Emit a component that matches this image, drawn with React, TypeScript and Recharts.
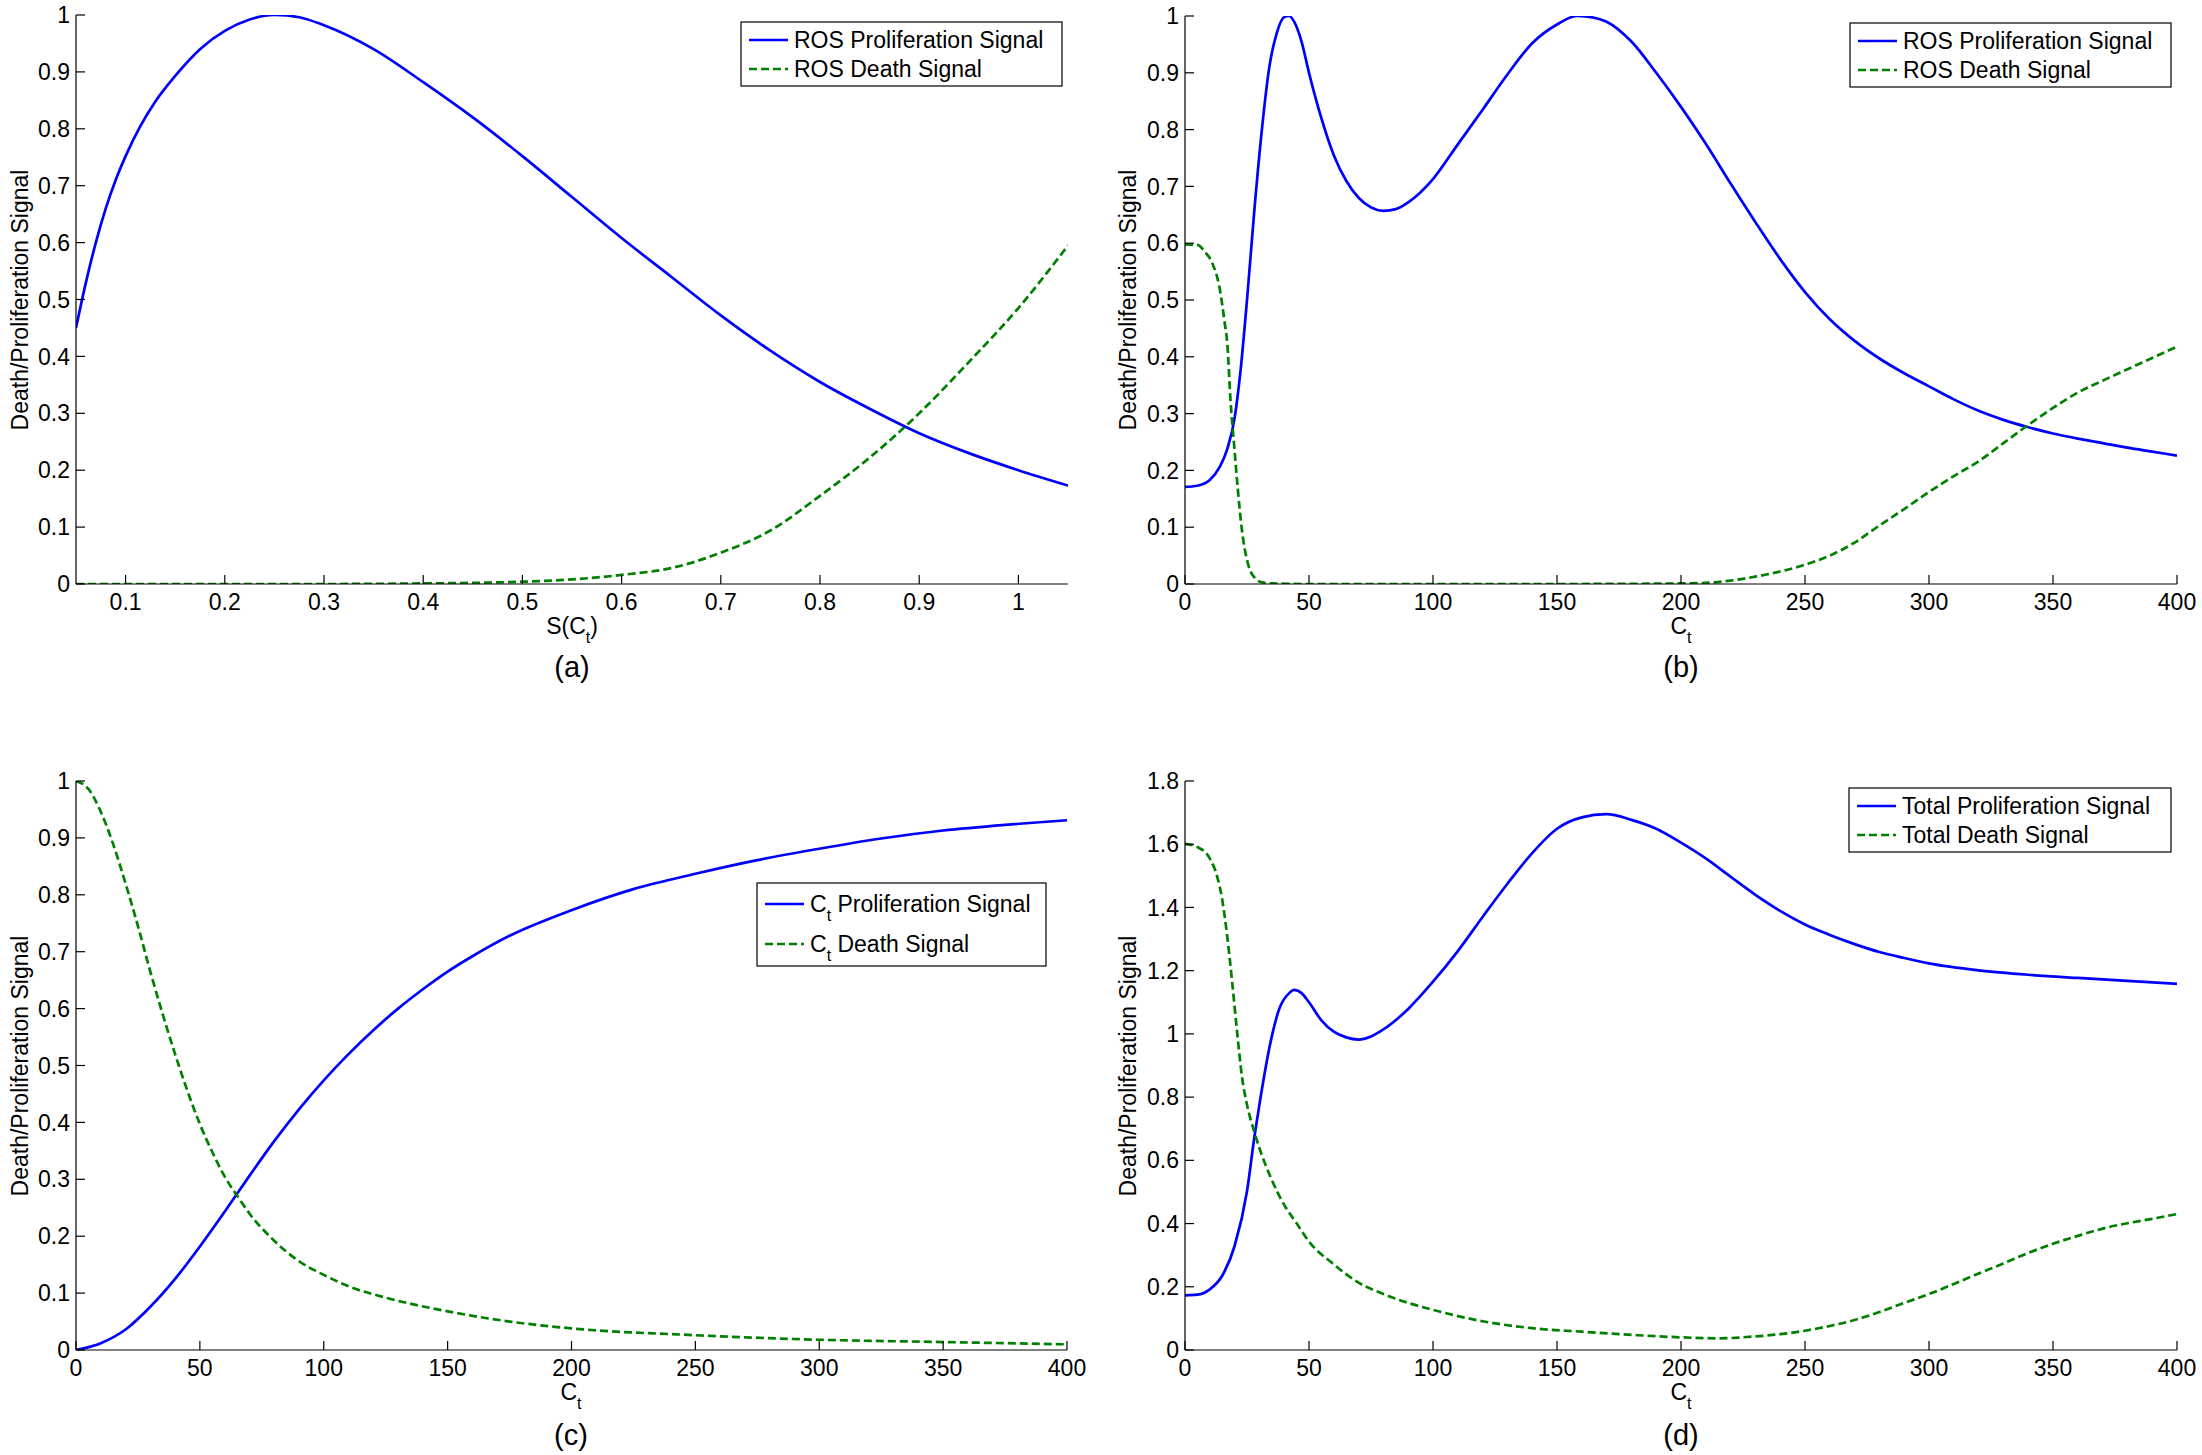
import React from 'react';
import { LineChart, Line, XAxis, YAxis } from 'recharts';

// (a) ROS signals against S(C_t)
const aProlifX = [0.05, 0.06, 0.07, 0.08, 0.09, 0.1, 0.115, 0.13, 0.15, 0.175, 0.2, 0.225, 0.25, 0.275, 0.3, 0.35, 0.4, 0.45, 0.5, 0.55, 0.6, 0.65, 0.7, 0.75, 0.8, 0.85, 0.9, 0.95, 1.0, 1.05];
const aProlifY = [0.45, 0.53, 0.6, 0.66, 0.71, 0.752, 0.805, 0.848, 0.893, 0.94, 0.972, 0.992, 1.0, 0.996, 0.982, 0.94, 0.882, 0.82, 0.752, 0.68, 0.608, 0.54, 0.472, 0.41, 0.355, 0.308, 0.265, 0.23, 0.2, 0.173];
const aDeathX = [0.05, 0.1, 0.2, 0.3, 0.4, 0.45, 0.5, 0.55, 0.6, 0.65, 0.7, 0.75, 0.8, 0.85, 0.9, 0.95, 1.0, 1.05];
const aDeathY = [0, 0, 0, 0, 0.001, 0.002, 0.004, 0.008, 0.016, 0.028, 0.055, 0.094, 0.155, 0.222, 0.3, 0.39, 0.485, 0.595];

// (b) ROS signals against C_t
const bProlifX = [0, 5, 10, 14, 17, 20, 22.5, 25, 28, 31, 34, 37, 40, 42, 44, 47, 50, 55, 60, 65, 70, 75, 80, 85, 90, 100, 110, 120, 130, 140, 150, 158, 165, 170, 180, 190, 200, 210, 220, 230, 240, 250, 260, 270, 280, 290, 300, 310, 320, 330, 340, 350, 360, 370, 380, 390, 400];
const bProlifY = [0.171, 0.173, 0.183, 0.206, 0.237, 0.292, 0.38, 0.5, 0.66, 0.8, 0.91, 0.97, 0.998, 1.0, 0.99, 0.955, 0.9, 0.82, 0.755, 0.71, 0.68, 0.663, 0.657, 0.66, 0.672, 0.713, 0.774, 0.835, 0.897, 0.952, 0.985, 1.0, 0.997, 0.99, 0.955, 0.9, 0.84, 0.775, 0.705, 0.637, 0.572, 0.514, 0.466, 0.428, 0.397, 0.371, 0.348, 0.325, 0.305, 0.289, 0.276, 0.265, 0.256, 0.248, 0.24, 0.233, 0.226];
const bDeathX = [0, 5, 8, 11, 14, 16, 17, 18.4, 19.8, 21.3, 22.7, 25.5, 28.3, 31, 35, 50, 100, 150, 200, 210, 220, 230, 240, 250, 260, 270, 280, 290, 300, 310, 320, 330, 340, 350, 360, 370, 380, 390, 400];
const bDeathY = [0.598, 0.597, 0.585, 0.565, 0.52, 0.46, 0.426, 0.32, 0.245, 0.167, 0.104, 0.034, 0.01, 0.003, 0.001, 0, 0, 0, 0.001, 0.002, 0.006, 0.013, 0.022, 0.034, 0.05, 0.073, 0.103, 0.132, 0.162, 0.19, 0.216, 0.248, 0.28, 0.31, 0.337, 0.358, 0.378, 0.398, 0.418];

// (c) C_t signals
const cProlifX = [0, 10, 20, 30, 40, 50, 60, 70, 80, 90, 100, 110, 120, 130, 140, 150, 160, 175, 200, 225, 250, 275, 300, 325, 350, 375, 400];
const cProlifY = [0, 0.012, 0.036, 0.076, 0.125, 0.182, 0.243, 0.306, 0.367, 0.423, 0.474, 0.52, 0.562, 0.6, 0.634, 0.665, 0.692, 0.728, 0.773, 0.81, 0.837, 0.861, 0.881, 0.899, 0.913, 0.923, 0.931];
const cDeathX = [0, 5, 10, 15, 20, 25, 30, 35, 40, 45, 50, 55, 60, 66, 70, 80, 90, 100, 110, 125, 150, 175, 200, 250, 300, 350, 400];
const cDeathY = [1.0, 0.986, 0.946, 0.889, 0.82, 0.745, 0.665, 0.59, 0.52, 0.455, 0.397, 0.348, 0.305, 0.265, 0.24, 0.192, 0.156, 0.132, 0.112, 0.092, 0.068, 0.05, 0.038, 0.026, 0.018, 0.014, 0.01];

// (d) total signals
const dProlifX = [0, 5, 10, 15, 20, 25, 28, 30, 35, 38, 42, 44, 47, 50, 55, 60, 65, 70, 75, 80, 90, 100, 110, 120, 130, 140, 150, 160, 170, 180, 190, 200, 210, 220, 230, 240, 250, 260, 270, 280, 290, 300, 320, 340, 360, 380, 400];
const dProlifY = [0.173, 0.175, 0.192, 0.235, 0.329, 0.502, 0.675, 0.776, 0.992, 1.079, 1.129, 1.139, 1.129, 1.1, 1.043, 1.007, 0.989, 0.982, 0.992, 1.014, 1.079, 1.165, 1.262, 1.37, 1.475, 1.572, 1.649, 1.685, 1.695, 1.677, 1.649, 1.605, 1.555, 1.497, 1.44, 1.389, 1.346, 1.313, 1.284, 1.259, 1.24, 1.223, 1.201, 1.187, 1.177, 1.168, 1.158];
const dDeathX = [0, 5, 10, 13, 15, 17, 19, 21, 23, 25, 28, 30, 35, 40, 45, 50, 60, 70, 80, 90, 100, 120, 140, 160, 180, 200, 215, 230, 240, 250, 260, 270, 280, 290, 300, 310, 320, 330, 340, 350, 360, 370, 380, 390, 400];
const dDeathY = [1.601, 1.591, 1.555, 1.497, 1.425, 1.31, 1.165, 1.007, 0.863, 0.776, 0.689, 0.639, 0.538, 0.459, 0.401, 0.343, 0.271, 0.213, 0.177, 0.149, 0.127, 0.091, 0.069, 0.058, 0.048, 0.04, 0.037, 0.043, 0.05, 0.061, 0.076, 0.095, 0.12, 0.149, 0.177, 0.209, 0.242, 0.274, 0.307, 0.336, 0.361, 0.384, 0.401, 0.415, 0.43];

const sTicks = [0.1, 0.2, 0.3, 0.4, 0.5, 0.6, 0.7, 0.8, 0.9, 1];
const ctTicks = [0, 50, 100, 150, 200, 250, 300, 350, 400];
const unitTicks = [0, 0.1, 0.2, 0.3, 0.4, 0.5, 0.6, 0.7, 0.8, 0.9, 1];
const totalTicks = [0, 0.2, 0.4, 0.6, 0.8, 1, 1.2, 1.4, 1.6, 1.8];

const FONT = '"Liberation Sans", Arial, sans-serif';
const BLUE = '#0000ff';
const GREEN = '#008000';
const DASH = '8 4';

const zip = (xs: number[], ys: number[]) => xs.map((x, i) => ({ x, y: ys[i] }));

interface Box { left: number; top: number; width: number; height: number }
interface Plot { left: number; top: number; right: number; bottom: number }
interface Series { name: string; data: { x: number; y: number }[]; color: string; dash?: string }

interface PanelProps {
  box: Box;
  plot: Plot;
  xDomain: [number, number];
  xTicks: number[];
  yDomain: [number, number];
  yTicks: number[];
  series: Series[];
}

const tickText = { fill: '#000', fontSize: 23, fontFamily: FONT };
const frame = { stroke: '#000', strokeWidth: 1.2 };

function Panel({ box, plot, xDomain, xTicks, yDomain, yTicks, series }: PanelProps) {
  const margin = { top: plot.top - box.top, right: box.left + box.width - plot.right, left: 0, bottom: 0 };
  return (
    <div style={{ position: 'absolute', left: box.left, top: box.top }}>
      <LineChart width={box.width} height={box.height} margin={margin}>
        <XAxis xAxisId="b" type="number" dataKey="x" domain={xDomain} ticks={xTicks} interval={0}
          allowDataOverflow height={box.top + box.height - plot.bottom}
          tickSize={-9} tickMargin={19} tick={tickText} axisLine={frame} tickLine={frame} />
        <XAxis xAxisId="t" orientation="top" type="number" dataKey="x" domain={xDomain} ticks={xTicks}
          interval={0} allowDataOverflow height={0} tickSize={-9} tickFormatter={() => ''}
          axisLine={frame} tickLine={frame} />
        <YAxis yAxisId="l" type="number" domain={yDomain} ticks={yTicks} interval={0} allowDataOverflow
          width={plot.left - box.left} tickSize={-9} tickMargin={15} tick={tickText}
          axisLine={frame} tickLine={frame} />
        <YAxis yAxisId="r" orientation="right" type="number" domain={yDomain} ticks={yTicks} interval={0}
          allowDataOverflow width={0} tickSize={-9} tickFormatter={() => ''}
          axisLine={frame} tickLine={frame} />
        {series.map((s) => (
          <Line key={s.name} name={s.name} xAxisId="b" yAxisId="l" data={s.data} dataKey="y" type="monotone"
            stroke={s.color} strokeWidth={2.7} strokeDasharray={s.dash} dot={false} activeDot={false}
            isAnimationActive={false} />
        ))}
      </LineChart>
    </div>
  );
}

interface LegendRow { color: string; dash?: string; sub?: boolean; label: string }

function LegendBox({ x, y, w, h, rows, rowY }: { x: number; y: number; w: number; h: number; rows: LegendRow[]; rowY: number[] }) {
  return (
    <g>
      <rect x={x} y={y} width={w} height={h} fill="#fff" stroke="#000" strokeWidth={1.2} />
      {rows.map((r, i) => (
        <g key={r.label}>
          <line x1={x + 8} x2={x + 47} y1={y + rowY[i]} y2={y + rowY[i]} stroke={r.color}
            strokeWidth={2.7} strokeDasharray={r.dash} />
          <text x={x + 53} y={y + rowY[i] + 7.5} fontSize={23} fontFamily={FONT} fill="#000">
            {r.sub ? (
              <>
                C<tspan fontSize={16} dy={9}>t</tspan><tspan dy={-9}>{' ' + r.label}</tspan>
              </>
            ) : r.label}
          </text>
        </g>
      ))}
    </g>
  );
}

function CtTitle({ x, y }: { x: number; y: number }) {
  return (
    <text x={x} y={y} textAnchor="middle" fontSize={23} fontFamily={FONT} fill="#000">
      C<tspan fontSize={16} dy={9}>t</tspan>
    </text>
  );
}

function YTitle({ x, y }: { x: number; y: number }) {
  return (
    <text transform={`translate(${x},${y}) rotate(-90)`} textAnchor="middle" dy="0.35em"
      fontSize={23} fontFamily={FONT} fill="#000">Death/Proliferation Signal</text>
  );
}

function PanelTag({ x, y, tag }: { x: number; y: number; tag: string }) {
  return (
    <text x={x} y={y} textAnchor="middle" dy="0.35em" fontSize={29} fontFamily={FONT} fill="#000">{tag}</text>
  );
}

export default function App() {
  const plotA = { left: 76, top: 15, right: 1068, bottom: 584 };
  const plotB = { left: 1185, top: 16, right: 2177, bottom: 584 };
  const plotC = { left: 76, top: 781, right: 1067, bottom: 1350 };
  const plotD = { left: 1185, top: 781, right: 2177, bottom: 1350 };

  return (
    <div style={{ position: 'absolute', left: 0, top: 0, width: 2202, height: 1455, background: '#fff' }}>
      <Panel box={{ left: 0, top: 0, width: 1101, height: 727 }} plot={plotA}
        xDomain={[0.05, 1.05]} xTicks={sTicks} yDomain={[0, 1]} yTicks={unitTicks}
        series={[
          { name: 'ROS Proliferation Signal', data: zip(aProlifX, aProlifY), color: BLUE },
          { name: 'ROS Death Signal', data: zip(aDeathX, aDeathY), color: GREEN, dash: DASH },
        ]} />
      <Panel box={{ left: 1101, top: 0, width: 1101, height: 727 }} plot={plotB}
        xDomain={[0, 400]} xTicks={ctTicks} yDomain={[0, 1]} yTicks={unitTicks}
        series={[
          { name: 'ROS Proliferation Signal', data: zip(bProlifX, bProlifY), color: BLUE },
          { name: 'ROS Death Signal', data: zip(bDeathX, bDeathY), color: GREEN, dash: DASH },
        ]} />
      <Panel box={{ left: 0, top: 727, width: 1101, height: 728 }} plot={plotC}
        xDomain={[0, 400]} xTicks={ctTicks} yDomain={[0, 1]} yTicks={unitTicks}
        series={[
          { name: 'Ct Proliferation Signal', data: zip(cProlifX, cProlifY), color: BLUE },
          { name: 'Ct Death Signal', data: zip(cDeathX, cDeathY), color: GREEN, dash: DASH },
        ]} />
      <Panel box={{ left: 1101, top: 727, width: 1101, height: 728 }} plot={plotD}
        xDomain={[0, 400]} xTicks={ctTicks} yDomain={[0, 1.8]} yTicks={totalTicks}
        series={[
          { name: 'Total Proliferation Signal', data: zip(dProlifX, dProlifY), color: BLUE },
          { name: 'Total Death Signal', data: zip(dDeathX, dDeathY), color: GREEN, dash: DASH },
        ]} />

      <svg width={2202} height={1455} style={{ position: 'absolute', left: 0, top: 0, pointerEvents: 'none' }}>
        <YTitle x={20} y={300} />
        <YTitle x={1128} y={300} />
        <YTitle x={20} y={1066} />
        <YTitle x={1128} y={1066} />

        <text x={572} y={634} textAnchor="middle" fontSize={23} fontFamily={FONT} fill="#000">
          S(C<tspan fontSize={16} dy={9}>t</tspan><tspan dy={-9}>)</tspan>
        </text>
        <CtTitle x={1681} y={634} />
        <CtTitle x={571} y={1400} />
        <CtTitle x={1681} y={1400} />

        <PanelTag x={572} y={667} tag="(a)" />
        <PanelTag x={1681} y={667} tag="(b)" />
        <PanelTag x={571} y={1435} tag="(c)" />
        <PanelTag x={1681} y={1435} tag="(d)" />

        <LegendBox x={741} y={22} w={321} h={64} rowY={[18, 47]} rows={[
          { color: BLUE, label: 'ROS Proliferation Signal' },
          { color: GREEN, dash: DASH, label: 'ROS Death Signal' },
        ]} />
        <LegendBox x={1850} y={23} w={321} h={64} rowY={[18, 47]} rows={[
          { color: BLUE, label: 'ROS Proliferation Signal' },
          { color: GREEN, dash: DASH, label: 'ROS Death Signal' },
        ]} />
        <LegendBox x={757} y={883} w={289} h={83} rowY={[21, 61]} rows={[
          { color: BLUE, sub: true, label: 'Proliferation Signal' },
          { color: GREEN, dash: DASH, sub: true, label: 'Death Signal' },
        ]} />
        <LegendBox x={1849} y={788} w={322} h={64} rowY={[18, 47]} rows={[
          { color: BLUE, label: 'Total Proliferation Signal' },
          { color: GREEN, dash: DASH, label: 'Total Death Signal' },
        ]} />
      </svg>
    </div>
  );
}
